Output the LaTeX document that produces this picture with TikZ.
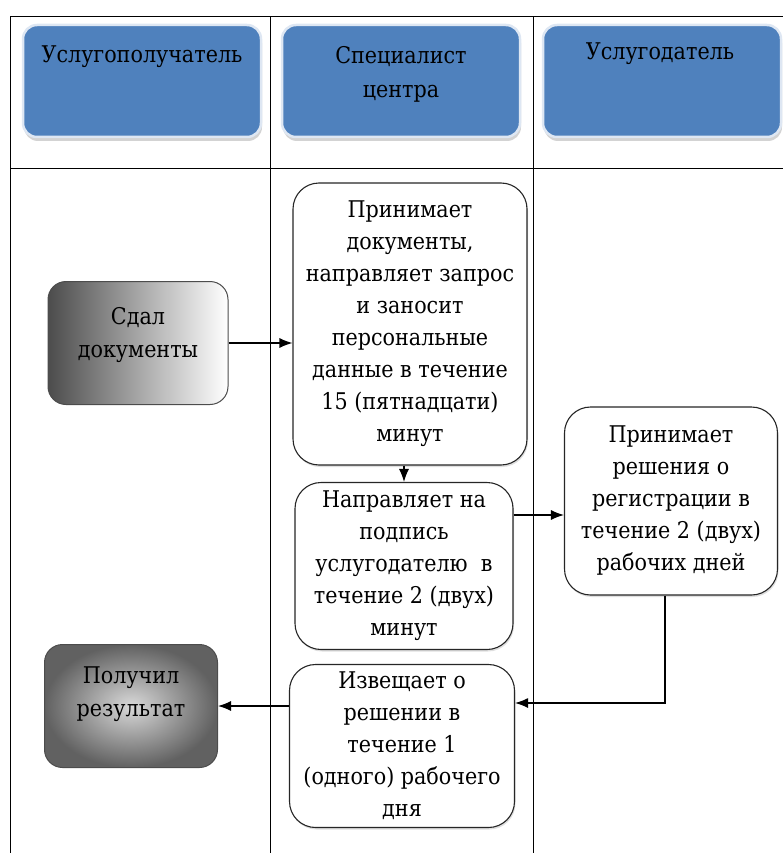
\documentclass[tikz,border=0pt]{standalone}
\usepackage{fontspec}
\setmainfont{DejaVu Serif Condensed}
\usetikzlibrary{shapes,arrows,arrows.meta,shadows}
\definecolor{hdrblue}{RGB}{79,129,189}
\definecolor{hdredge}{RGB}{222,231,243}
\tikzset{
  hdr/.style={rectangle,rounded corners=14pt,fill=hdrblue,draw=hdredge,line width=2.5pt,
    minimum width=238pt,minimum height=112pt,
    drop shadow={opacity=0.35,shadow xshift=1pt,shadow yshift=-4pt}},
  hdrtxt/.style={anchor=north,inner sep=0pt,align=center,font=\rmfamily\fontsize{23}{34}\selectfont},
  proc/.style={rectangle,rounded corners=26pt,draw=black!85,line width=1.1pt,fill=white,
    align=center,inner sep=0pt,font=\rmfamily\fontsize{23}{32}\selectfont,
    drop shadow={opacity=0.25,shadow xshift=1pt,shadow yshift=-2pt}},
  actor/.style={rectangle,rounded corners=18pt,draw=black!70,line width=1pt,
    align=center,inner sep=0pt,font=\rmfamily\fontsize{23}{33}\selectfont},
  arr/.style={-{Latex[length=13pt,width=10pt]},line width=1.2pt}
}
\begin{document}
\begin{tikzpicture}[x=1pt,y=-1pt]
                \useasboundingbox(0,0)rectangle(783,853);
                \draw[line width=1pt](10,853)--(10,17)--(783,17);
                \draw[line width=1pt](10,169)--(783,169);
                \draw[line width=1pt](270,17)--(270,853);
                \draw[line width=1pt](533,17)--(533,853);
                \node[hdr](h1) at (142,81){};
                \node[hdr](h2) at (401,81){};
                \node[hdr](h3) at (662,81){};
                \node[hdrtxt](t1) at (142,46){Услугополучатель};
                \node[hdrtxt](t2) at (401,46){Специалист\\центра};
                \node[hdrtxt](t3) at (660,43){Услугодатель};
                \node[actor,minimum width=180pt,minimum height=123pt,left color=black!70,right color=white](sdal) at (138,343){Сдал\\документы\\[-12pt]};
                \node[actor,minimum width=173pt,minimum height=123pt,inner color=black!15,outer color=black!62](pol) at (131,706){Получил\\результат\\[-4pt]};
                \node[proc,minimum width=234pt,minimum height=282pt](prin) at (410,324){Принимает\\документы,\\направляет запрос\\и заносит\\персональные\\данные в течение\\15 (пятнадцати)\\минут};
                \node[proc,minimum width=218pt,minimum height=167pt](napr) at (404,566){Направляет на\\подпись\\услугодателю\ \ в\\течение 2 (двух)\\минут};
                \node[proc,minimum width=213pt,minimum height=188pt](resh) at (671,501){Принимает\\решения о\\регистрации в\\течение 2 (двух)\\рабочих дней};
                \node[proc,minimum width=225pt,minimum height=163pt](izv) at (402,746){Извещает о\\решении в\\течение 1\\(одного) рабочего\\дня};
                \coordinate(c1) at ([yshift=51pt]napr.east);
                \coordinate(c2) at ([xshift=-6pt]resh.south);
                \coordinate(c3) at ([yshift=43pt]izv.east);
                \draw[arr](sdal.east)--(sdal.east -| prin.west);
                \draw[arr](prin.south -| napr.north)--(napr.north);
                \draw[arr](c1)--(c1 -| resh.west);
                \draw[arr](c2)|-(c3);
                \draw[arr](pol.east -| izv.west)--(pol.east);
            \end{tikzpicture}
\end{document}
